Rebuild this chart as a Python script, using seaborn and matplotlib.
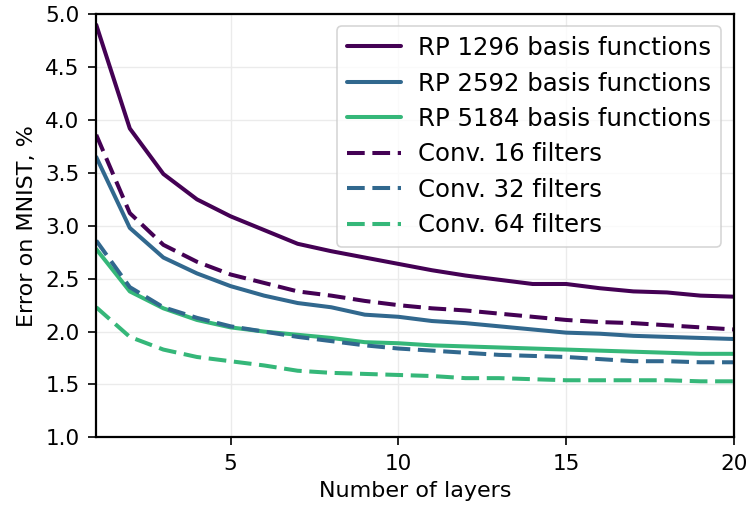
import matplotlib
matplotlib.use("Agg")
import matplotlib.pyplot as plt
import seaborn as sns
import pandas as pd

layers = list(range(1, 21))

rp_1296 = [4.90, 3.92, 3.49, 3.25, 3.09, 2.96, 2.83, 2.76, 2.70, 2.64,
           2.58, 2.53, 2.49, 2.45, 2.45, 2.41, 2.38, 2.37, 2.34, 2.33]
rp_2592 = [3.65, 2.98, 2.70, 2.55, 2.43, 2.34, 2.27, 2.23, 2.16, 2.14,
           2.10, 2.08, 2.05, 2.02, 1.99, 1.98, 1.96, 1.95, 1.94, 1.93]
rp_5184 = [2.78, 2.38, 2.22, 2.11, 2.04, 2.00, 1.97, 1.94, 1.90, 1.89,
           1.87, 1.86, 1.85, 1.84, 1.83, 1.82, 1.81, 1.80, 1.79, 1.79]
conv_16 = [3.86, 3.12, 2.82, 2.66, 2.54, 2.46, 2.38, 2.34, 2.29, 2.25,
           2.22, 2.20, 2.17, 2.14, 2.11, 2.09, 2.08, 2.06, 2.04, 2.02]
conv_32 = [2.86, 2.42, 2.23, 2.13, 2.05, 2.00, 1.95, 1.91, 1.87, 1.84,
           1.82, 1.80, 1.78, 1.77, 1.76, 1.74, 1.72, 1.72, 1.71, 1.71]
conv_64 = [2.23, 1.95, 1.83, 1.76, 1.72, 1.68, 1.63, 1.61, 1.60, 1.59,
           1.58, 1.56, 1.56, 1.55, 1.54, 1.54, 1.54, 1.54, 1.53, 1.53]

labels = ["RP 1296 basis functions", "RP 2592 basis functions", "RP 5184 basis functions",
          "Conv. 16 filters", "Conv. 32 filters", "Conv. 64 filters"]
series = [rp_1296, rp_2592, rp_5184, conv_16, conv_32, conv_64]

sns.set_theme(style="whitegrid")
plt.rcParams['font.family'] = ['DejaVu Sans']
plt.rcParams['text.color'] = 'black'
plt.rcParams['axes.labelcolor'] = 'black'
plt.rcParams['xtick.color'] = 'black'
plt.rcParams['ytick.color'] = 'black'
plt.rcParams['lines.dashed_pattern'] = (4.4, 1.9)

colors = ["#440154", "#31688e", "#35b779"]
styles = ["-", "-", "-", "--", "--", "--"]

fig = plt.figure(figsize=(7.46, 5.08), dpi=100)
ax = fig.add_axes([0.129, 0.139, 0.855, 0.833])

for i, (lab, vals) in enumerate(zip(labels, series)):
    df = pd.DataFrame({"layers": layers, "err": vals})
    sns.lineplot(data=df, x="layers", y="err", ax=ax, label=lab,
                 color=colors[i % 3], linestyle=styles[i], linewidth=2.9)

ax.set_xlim(1, 20)
ax.set_ylim(1.0, 5.0)
ax.set_xticks([5, 10, 15, 20])
ax.set_yticks([1.0, 1.5, 2.0, 2.5, 3.0, 3.5, 4.0, 4.5, 5.0])
ax.set_yticklabels(["1.0", "1.5", "2.0", "2.5", "3.0", "3.5", "4.0", "4.5", "5.0"])
ax.set_xlabel("Number of layers", fontsize=16, labelpad=5)
ax.set_ylabel("Error on MNIST, %", fontsize=16, labelpad=6)
ax.tick_params(axis="both", labelsize=15.5, length=5.5, width=1.2, colors="black",
               bottom=True, left=True, direction="out", pad=6.5)
ax.grid(True, color="#ebebeb", linewidth=1.0)
for s in ax.spines.values():
    s.set_color("black")
    s.set_linewidth(1.6)

leg = ax.legend(loc="upper right", fontsize=17.6, frameon=True, handlelength=2.2,
                borderpad=0.4, labelspacing=0.47, handletextpad=0.7,
                borderaxespad=0, bbox_to_anchor=(0.9796, 0.9716))
leg.get_frame().set_edgecolor("#cccccc")
leg.get_frame().set_linewidth(1.2)
for t in leg.get_texts():
    t.set_color("black")

fig.savefig("out.png", dpi=100)
